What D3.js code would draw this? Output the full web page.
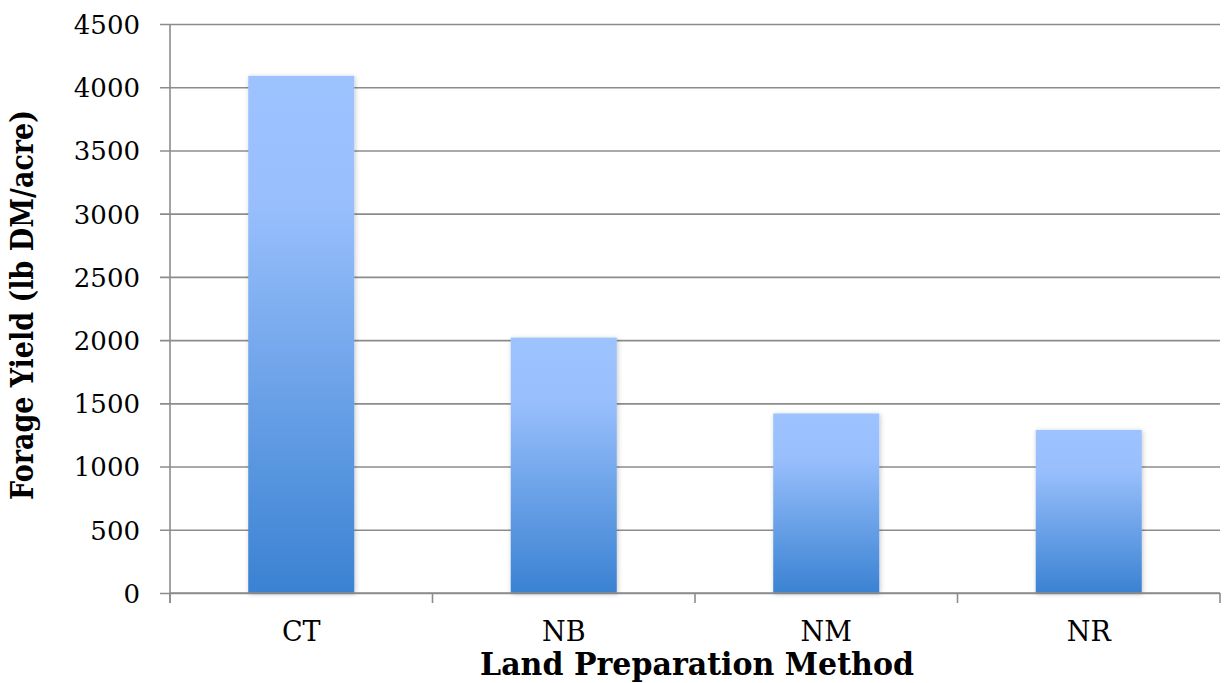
<!DOCTYPE html>
<html>
<head>
<meta charset="utf-8">
<script src="https://cdn.jsdelivr.net/npm/d3@7/dist/d3.min.js"></script>
<style>
  html, body { margin: 0; padding: 0; background: #fff; }
  svg { display: block; }
  text { font-family: "DejaVu Serif", "Liberation Serif", serif; fill: #000; }
</style>
</head>
<body>
<svg id="chart" width="1225" height="683"></svg>
<script>
// Forage yield by land preparation method
const categories = ["CT", "NB", "NM", "NR"];
const yieldValues = [4090, 2020, 1420, 1290];
const yTicks = [0, 500, 1000, 1500, 2000, 2500, 3000, 3500, 4000, 4500];

const svg = d3.select("#chart");
const margin = { left: 170, right: 5, top: 24, bottom: 90 };
const W = 1225, H = 683;
const plotW = W - margin.left - margin.right;
const plotH = H - margin.top - margin.bottom;

const x = d3.scaleBand()
  .domain(categories)
  .range([margin.left, margin.left + plotW])
  .paddingInner(0.596)
  .paddingOuter(0.298);

const y = d3.scaleLinear()
  .domain([0, 4500])
  .range([margin.top + plotH, margin.top]);

const defs = svg.append("defs");
const grad = defs.append("linearGradient")
  .attr("id", "barFill")
  .attr("x1", 0).attr("y1", 0).attr("x2", 0).attr("y2", 1);
grad.append("stop").attr("offset", "0%").attr("stop-color", "#9dc3ff");
grad.append("stop").attr("offset", "25%").attr("stop-color", "#98bffc");
grad.append("stop").attr("offset", "100%").attr("stop-color", "#3a82d2");

const shadow = defs.append("filter")
  .attr("id", "barShadow")
  .attr("x", "-20%").attr("y", "-5%").attr("width", "140%").attr("height", "110%");
shadow.append("feDropShadow")
  .attr("dx", 1).attr("dy", 1).attr("stdDeviation", 2.5)
  .attr("flood-color", "#000").attr("flood-opacity", 0.22);

// horizontal gridlines with left tick stubs
const yAxis = d3.axisLeft(y)
  .tickValues(yTicks)
  .tickSize(-plotW - 10)
  .tickFormat(d3.format("d"));

const gy = svg.append("g")
  .attr("transform", `translate(${margin.left - 10},0)`)
  .call(yAxis);
gy.select(".domain").remove();
gy.selectAll(".tick line")
  .attr("stroke", "#8c8c8c").attr("stroke-width", 1.6);
gy.selectAll(".tick text")
  .attr("x", -20)
  .attr("dy", "0.36em")
  .style("font-size", "26px");

// bars
svg.append("g")
  .selectAll("rect")
  .data(categories)
  .join("rect")
  .attr("x", d => x(d))
  .attr("width", x.bandwidth())
  .attr("y", (d, i) => y(yieldValues[i]))
  .attr("height", (d, i) => y(0) - y(yieldValues[i]))
  .attr("fill", "url(#barFill)")
  .attr("filter", "url(#barShadow)");

// vertical axis line
svg.append("line")
  .attr("x1", margin.left).attr("x2", margin.left)
  .attr("y1", y(4500)).attr("y2", y(0) + 10)
  .attr("stroke", "#8c8c8c").attr("stroke-width", 1.6);

// baseline and category boundary ticks
svg.append("line")
  .attr("x1", margin.left).attr("x2", margin.left + plotW)
  .attr("y1", y(0)).attr("y2", y(0))
  .attr("stroke", "#8c8c8c").attr("stroke-width", 1.6);

const step = x.step();
const boundaries = d3.range(categories.length + 1).map(i => margin.left + i * step);
svg.append("g")
  .selectAll("line")
  .data(boundaries)
  .join("line")
  .attr("x1", d => d).attr("x2", d => d)
  .attr("y1", y(0)).attr("y2", y(0) + 10)
  .attr("stroke", "#8c8c8c").attr("stroke-width", 1.6);

// category labels
svg.append("g")
  .selectAll("text")
  .data(categories)
  .join("text")
  .attr("x", d => x(d) + x.bandwidth() / 2)
  .attr("y", 641)
  .attr("text-anchor", "middle")
  .style("font-size", "27px")
  .text(d => d);

// axis titles
svg.append("text")
  .attr("x", 697)
  .attr("y", 675)
  .attr("text-anchor", "middle")
  .attr("textLength", 434)
  .attr("lengthAdjust", "spacingAndGlyphs")
  .style("font-size", "32px")
  .style("font-weight", "bold")
  .text("Land Preparation Method");

svg.append("text")
  .attr("transform", "translate(33,305) rotate(-90)")
  .attr("text-anchor", "middle")
  .attr("textLength", 390)
  .attr("lengthAdjust", "spacingAndGlyphs")
  .style("font-size", "32px")
  .style("font-weight", "bold")
  .text("Forage Yield (lb DM/acre)");
</script>
</body>
</html>
